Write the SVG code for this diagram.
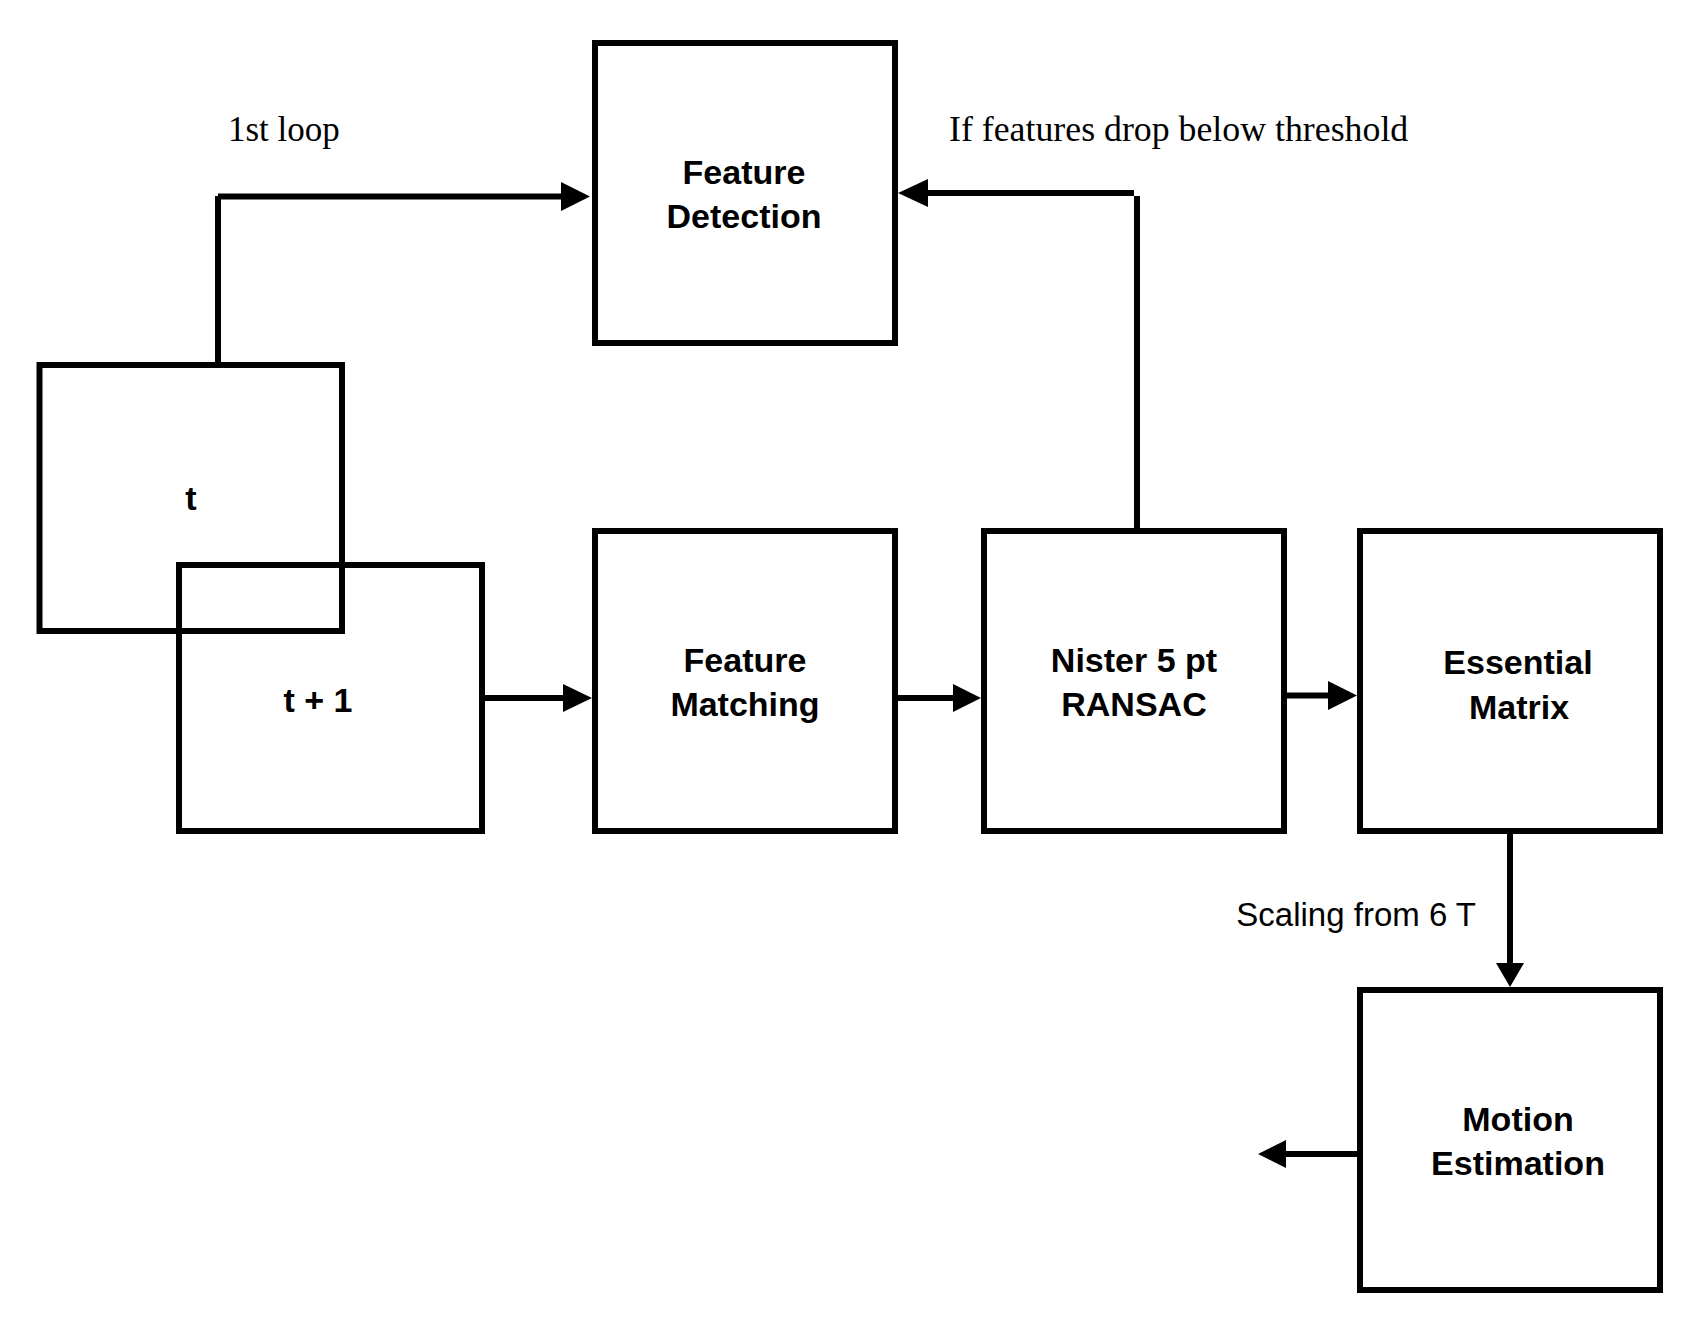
<svg xmlns="http://www.w3.org/2000/svg" width="1694" height="1326" viewBox="0 0 1694 1326">
<style>
.box{fill:none;stroke:#000;stroke-width:6}
.ln{fill:none;stroke:#000;stroke-width:6;stroke-linecap:butt}
.hd{fill:#000;stroke:none}
.lbl{font-family:"Liberation Sans",Arial,Helvetica,sans-serif;font-weight:bold;font-size:34px;fill:#000;text-anchor:middle}
.ser{font-family:"Liberation Serif","Times New Roman",serif;font-size:35px;fill:#000}
.san{font-family:"Liberation Sans",Arial,Helvetica,sans-serif;font-size:33px;fill:#000}
</style>
<rect width="1694" height="1326" fill="#fff"/>
<g id="connectors">
<line class="ln" x1="218" y1="362" x2="218" y2="196"/>
<line class="ln" x1="218" y1="196.5" x2="562" y2="196.5"/>
<polygon class="hd" points="561,182 590,196.5 561,211"/>
<line class="ln" x1="1137" y1="528" x2="1137" y2="196"/>
<line class="ln" x1="1134" y1="193" x2="926" y2="193"/>
<polygon class="hd" points="928,179 898,193 928,207"/>
<line class="ln" x1="485" y1="698" x2="564" y2="698"/>
<polygon class="hd" points="563,684 592,698 563,712"/>
<line class="ln" x1="898" y1="698" x2="954" y2="698"/>
<polygon class="hd" points="953,684 981,698 953,712"/>
<line class="ln" x1="1287" y1="695.5" x2="1329" y2="695.5"/>
<polygon class="hd" points="1328,681 1357,695.5 1328,710"/>
<line class="ln" x1="1510" y1="834" x2="1510" y2="964"/>
<polygon class="hd" points="1496,963 1524,963 1510,987"/>
<line class="ln" x1="1357" y1="1154" x2="1285" y2="1154"/>
<polygon class="hd" points="1286,1140 1258,1154 1286,1168"/>
</g>
<g id="label-1st-loop"><text class="ser" x="228" y="141">1st loop</text></g>
<g id="label-threshold"><text class="ser" x="949" y="141" style="font-size:35.8px">If features drop below threshold</text></g>
<g id="label-scaling"><text class="san" x="1476" y="926" text-anchor="end">Scaling from 6 T</text></g>
<g id="node-t">
<rect class="box" x="39.5" y="365" width="302.5" height="266"/>
<text class="lbl" x="191" y="510">t</text>
</g>
<g id="node-t1">
<rect class="box" x="179" y="565" width="303" height="266"/>
<text class="lbl" x="318" y="712">t + 1</text>
</g>
<g id="node-feature-detection">
<rect class="box" x="595" y="43" width="300" height="300"/>
<text class="lbl" x="744" y="184">Feature</text>
<text class="lbl" x="744" y="228">Detection</text>
</g>
<g id="node-feature-matching">
<rect class="box" x="595" y="531" width="300" height="300"/>
<text class="lbl" x="745" y="672">Feature</text>
<text class="lbl" x="745" y="716">Matching</text>
</g>
<g id="node-nister">
<rect class="box" x="984" y="531" width="300" height="300"/>
<text class="lbl" x="1134" y="672">Nister 5 pt</text>
<text class="lbl" x="1134" y="716">RANSAC</text>
</g>
<g id="node-essential">
<rect class="box" x="1360" y="531" width="300" height="300"/>
<text class="lbl" x="1518" y="674">Essential</text>
<text class="lbl" x="1519" y="719">Matrix</text>
</g>
<g id="node-motion">
<rect class="box" x="1360" y="990" width="300" height="300"/>
<text class="lbl" x="1518" y="1131">Motion</text>
<text class="lbl" x="1518" y="1175">Estimation</text>
</g>
</svg>
